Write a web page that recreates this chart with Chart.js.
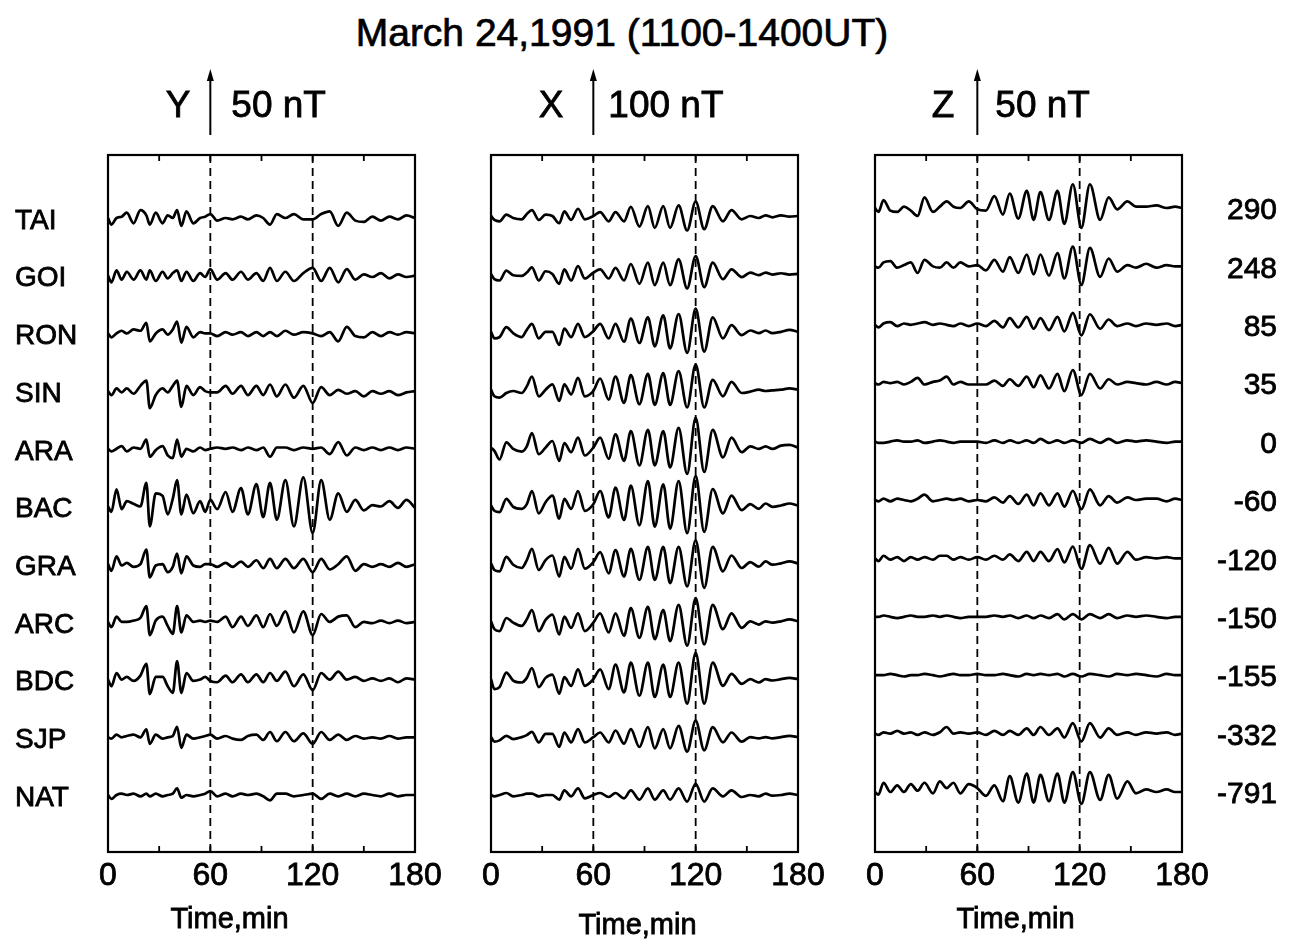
<!DOCTYPE html>
<html>
<head>
<meta charset="utf-8">
<script src="https://cdn.jsdelivr.net/npm/chart.js@4.4.1/dist/chart.umd.min.js"></script>
<style>
  html, body { margin: 0; padding: 0; background: #fff; }
  body { width: 1296px; height: 939px; position: relative; overflow: hidden; font-family: "Liberation Sans", Arial, sans-serif; }
  #title { position: absolute; left: 0; top: 13px; width: 1244px; text-align: center; font-size: 39px; line-height: 39px; color: #000; -webkit-text-stroke: 0.7px #000; }
  canvas { position: absolute; top: 0; }
</style>
</head>
<body>
<div id="title">March 24,1991 (1100-1400UT)</div>
<canvas id="cY" width="450" height="939" style="left:0px"></canvas>
<canvas id="cX" width="385" height="939" style="left:450px"></canvas>
<canvas id="cZ" width="461" height="939" style="left:835px"></canvas>
<script>
// stations top to bottom, and the numbers printed on the right
const stations = ["TAI", "GOI", "RON", "SIN", "ARA", "BAC", "GRA", "ARC", "BDC", "SJP", "NAT"];
const stationDist = ["290", "248", "85", "35", "0", "-60", "-120", "-150", "-155", "-332", "-791"];
const timeTicks = [0, 60, 120, 180];

// Y component (nT), sampled at tY minutes
const tY = [0, 2, 5, 8, 11, 15, 19, 22.5, 24.5, 28, 32, 35, 38, 40.5, 43, 46, 50, 54, 57, 60, 64, 69, 73, 78, 82, 87, 91, 95, 99, 104, 109, 114.5, 120, 125, 130, 135, 140, 145, 150, 155, 160, 165, 170, 175, 180];
const yTAI = [0,-5,0,1,4,-4,6,2,-5,4, -4,2,0,6,-6,5,-4,0,1,3, -2,0,-1,1,-1,2,0,-5,3,0, 3,-1,-1,3,5,-6,4,-2,-3,1, -2,1,-1,2,0];
const yGOI = [0,-5,4,-3,3,-3,4,-3,4,-4, 3,-2,2,4,-4,3,-4,2,-1,5, -3,2,-3,3,-3,2,-4,6,-4,3, -4,2,6,-4,6,-5,5,-3,1,-1, 2,-2,1,-1,0];
const yRON = [0,-3,0,2,0,3,2,8,-6,0, 3,-1,3,9,-7,5,-3,1,0,0, -2,1,-1,1,-2,1,-2,1,-2,2, -1,1,0,-2,1,-6,5,-2,-3,1, -2,1,-1,1,0];
const ySIN = [0,-3,2,-1,2,-2,4,8,-13,-3, 2,-1,4,8,-12,4,-3,3,0,-1, -1,4,-2,4,-3,4,-3,5,-4,5, -5,4,-9,3,-3,1,-2,0,-4,0, -2,0,-3,-1,0];
const yARA = [0,-2,0,2,-2,1,0,7,-6,-1, 2,-5,-7,7,-6,0,-2,1,-1,0, 1,0,1,-1,1,-1,1,-6,1,1, -1,1,0,1,-4,5,-5,1,-1,1, -1,1,-1,1,0];
const yBAC = [0,-4,13,-2,4,2,0,18,-15,10, 8,-6,6,20,-6,9,-5,4,-4,5, -2,11,-4,14,-6,17,-8,18,-10,20, -15,22,-20,20,-10,10,-4,5,-3,1, 0,4,-1,5,-1];
const yGRA = [0,-5,6,-1,1,-2,0,11,-10,-1, 0,-6,-2,8,-7,6,-1,-2,0,0, -2,1,-2,2,-2,3,-3,4,-3,4, -3,4,-6,4,-4,0,6,-5,0,-2, 0,-2,1,-2,0];
const yARC = [0,-4,4,0,0,1,3,12,-10,1, 4,-3,-9,12,-8,5,0,1,0,1, 0,4,-4,4,-3,5,-4,6,-3,8, -8,8,-10,6,0,4,5,-4,0,-1, 1,-1,1,-1,0];
const yBDC = [0,-5,5,0,2,-1,3,12,-11,2, 2,-5,-10,14,-10,5,-1,0,2,-1, -2,3,-2,4,-2,4,-2,5,-1,6, -5,4,-8,5,0,6,0,2,-1,1, -1,1,-2,1,0];
const ySJP = [0,-1,2,0,1,2,0,6,-5,2, -1,0,1,8,-8,2,-1,0,1,2, -1,1,-1,-2,1,2,-2,4,-3,4, -3,3,-5,4,-2,2,-2,1,-1,0, -1,1,-1,0,0];
const yNAT = [0,-3,0,1,0,1,-1,1,-1,1, -1,0,1,5,-2,0,-1,0,1,3, -1,1,-1,1,0,1,-1,-4,1,1, -1,0,1,-3,1,-1,1,-1,1,0, -1,1,-1,0,0];

// X component (nT), sampled at tX minutes
const tX = [0, 2, 5, 9, 13, 18, 21, 24, 28, 32, 36, 40, 43, 47, 51, 55, 60, 64, 69, 73, 78, 82, 87, 92, 96, 101, 105, 110, 115, 120, 125, 130, 136, 141, 147, 152, 157, 161, 165, 170, 175, 180];
const xTAI = [0,-6,-8,2,-3,-5,3,9,-6,2, 0,-11,7,-6,11,-5,0,6,-8,6, -8,14,-16,15,-18,15,-18,16,-22,22, -20,15,-8,9,-5,0,-3,1,-2,1, -1,0];
const xGOI = [0,-8,-10,5,-2,-3,2,10,-10,4, 0,-15,7,-10,12,-7,2,7,-7,9, -10,15,-15,17,-17,17,-17,22,-22,27, -20,17,-8,7,-5,2,-2,2,-1,1, -1,0];
const xRON = [0,-10,-8,7,-2,-8,3,12,-10,0, 0,-20,5,-8,12,-8,1,12,-10,12, -15,20,-17,22,-22,25,-25,27,-32,35, -30,22,-10,10,-5,2,-2,2,-2,0, 3,0];
const xSIN = [0,-10,-12,-5,-2,-5,5,20,-10,0, 8,-17,8,-7,18,-10,-2,17,-15,20, -20,22,-22,24,-23,25,-23,28,-27,38, -27,15,-10,12,-5,-3,0,-2,-1,0, 2,0];
const xARA = [0,-5,-18,8,-2,-6,2,22,-10,0, 10,-20,7,-7,15,-12,0,15,-17,20, -20,25,-27,27,-27,25,-30,30,-40,45, -37,27,-15,15,-7,2,-2,2,-2,3, 4,0];
const xBAC = [0,-8,-10,10,-2,-5,2,22,-12,5, 15,-20,10,-5,22,-8,2,22,-18,27, -22,30,-30,37,-32,32,-35,37,-42,45, -40,25,-12,15,-7,2,-5,3,-2,0, 3,0];
const xGRA = [0,-10,-12,10,-2,-7,5,22,-10,5, 12,-20,10,-8,22,-8,2,17,-15,20, -20,22,-25,25,-25,25,-30,25,-35,35, -37,25,-12,12,-7,2,-5,3,-2,0, 3,0];
const xARC = [0,-12,-15,5,-2,-7,3,17,-15,2, 10,-20,7,-10,12,-15,-2,12,-17,12, -22,20,-25,22,-27,17,-30,25,-37,35, -35,25,-12,12,-10,0,-5,0,-2,0, 3,0];
const xBDC = [0,-15,-12,10,-2,-5,2,17,-12,2, 7,-22,3,-10,15,-10,0,15,-15,22, -20,25,-25,25,-27,22,-27,25,-37,40, -37,25,-10,8,-7,0,-5,0,-2,0, 2,0];
const xSJP = [0,-7,-5,2,-3,0,3,8,-8,5, 5,-15,7,-8,12,-8,0,7,-8,10, -10,12,-15,15,-17,12,-17,17,-22,25, -20,15,-8,7,-7,0,-2,0,-2,0, 2,0];
const xNAT = [0,-2,0,3,-2,0,2,2,-2,0, 0,-7,7,-2,10,-5,0,3,-3,3, -5,7,-7,10,-7,7,-7,10,-10,17, -10,10,-2,7,-3,0,-2,2,-1,0, 2,0];

// Z component (nT), sampled at tZ minutes
const tZ = [0, 2, 5, 9, 13, 17, 21, 25, 29, 34, 38, 42, 46, 50, 55, 60, 65, 70, 75, 79, 84, 89, 93, 97, 102, 107, 111, 116, 121, 126, 132, 137, 142, 148, 153, 159, 165, 171, 176, 180];
const zTAI = [0,-3,6,-2,-3,1,-2,-6,8,-3, 1,5,1,0,5,-1,-2,9,-5,11, -8,13,-9,12,-9,13,-12,18,-15,18, -9,8,-1,5,1,1,2,0,1,0];
const zGOI = [0,-1,3,4,-1,1,3,-5,5,0, -1,3,-1,3,0,1,-3,5,-4,7, -5,9,-6,9,-7,10,-9,15,-14,14, -8,6,-4,1,-1,2,-1,1,0,0];
const zRON = [0,-2,1,2,-1,1,0,1,2,0, 1,0,-1,1,-1,1,-1,3,-2,5, -2,6,-3,5,-4,6,-5,9,-8,8, -3,4,-1,1,-1,1,0,1,-1,0];
const zSIN = [0,-1,1,0,1,-1,1,4,-1,1, 2,5,-1,1,-1,-1,-1,2,-2,3, -2,5,-3,6,-4,7,-6,10,-9,7, -4,3,-1,1,0,-1,1,-1,1,0];
const zARA = [0,-1,-1,0,1,0,0,1,-1,0, 1,0,-1,0,0,0,-1,1,-1,1, -1,1,-1,2,-1,1,-1,1,-1,2, -1,2,-1,1,0,1,0,-1,0,0];
const zBAC = [0,-1,1,-1,1,0,-1,1,4,-1, 0,1,0,1,-1,0,-1,2,-2,3, -3,4,-4,5,-4,5,-5,7,-7,8, -4,3,-2,2,0,1,1,-1,1,0];
const zGRA = [0,-2,2,-1,1,-2,1,-1,1,-1, 2,2,-1,1,-1,1,-1,2,-1,3, -2,5,-2,5,-2,7,-3,9,-8,10, -4,8,-4,5,-1,1,0,1,0,0];
const zARC = [0,0,1,0,-1,0,1,0,0,1, 0,1,0,-1,0,0,0,1,0,1, -1,1,-1,1,-1,2,-2,2,-2,2, -1,2,-1,1,0,1,0,-1,0,0];
const zBDC = [0,0,0,1,0,-1,0,0,1,0, -1,0,1,0,0,1,0,0,1,0, -1,1,0,1,0,1,-1,1,-1,1, 0,-1,1,0,1,0,-1,1,0,0];
const zSJP = [0,-1,1,0,2,0,1,-1,1,-1, 1,5,0,1,0,1,-1,2,-1,2, -1,4,-1,5,-1,4,-3,8,-6,8, -3,4,-1,1,-1,1,0,1,-1,0];
const zNAT = [0,-2,7,0,5,0,6,1,7,-1, 8,3,7,-1,6,3,-3,5,-7,12, -8,14,-8,13,-7,14,-8,15,-9,15, -6,13,-5,8,-1,2,0,2,0,0];

const FONT = '"Liberation Sans", Arial, Helvetica, sans-serif';
const PLOT_TOP = 155, PLOT_BOTTOM = 852;

// heavier text, like the scanned original
function inkText(ctx, s, x, y) {
  ctx.fillText(s, x, y);
  ctx.strokeText(s, x, y);
}

// frame, dashed marks, scale arrow and the text round each panel
const deco = {
  id: "deco",
  afterDraw(chart, args, o) {
    const { ctx, chartArea: a } = chart;
    const x = chart.scales.x, y = chart.scales.y;
    ctx.save();
    ctx.strokeStyle = "#000";
    ctx.fillStyle = "#000";

    ctx.lineWidth = 2.2;
    ctx.strokeRect(a.left, a.top, a.right - a.left, a.bottom - a.top);

    ctx.lineWidth = 1.8;
    ctx.setLineDash([8, 5]);
    [60, 120].forEach(v => {
      const px = x.getPixelForValue(v);
      ctx.beginPath(); ctx.moveTo(px, a.top); ctx.lineTo(px, a.bottom); ctx.stroke();
    });
    ctx.setLineDash([]);
    for (let v = 30; v < 180; v += 30) {
      const px = x.getPixelForValue(v);
      ctx.beginPath();
      ctx.moveTo(px, a.top); ctx.lineTo(px, a.top + 6);
      ctx.moveTo(px, a.bottom); ctx.lineTo(px, a.bottom - 6);
      ctx.stroke();
    }

    // scale bar arrow at t = 60
    const ax = x.getPixelForValue(60);
    const len = Math.abs(y.getPixelForValue(0) - y.getPixelForValue(o.bar));
    const yb = 135, yt = yb - len;
    ctx.lineWidth = 2;
    ctx.beginPath(); ctx.moveTo(ax, yb); ctx.lineTo(ax, yt + 8); ctx.stroke();
    ctx.beginPath(); ctx.moveTo(ax, yt); ctx.lineTo(ax - 3.5, yt + 12); ctx.lineTo(ax + 3.5, yt + 12); ctx.closePath(); ctx.fill();

    ctx.lineWidth = 0.8;
    ctx.font = "37px " + FONT;
    ctx.textBaseline = "alphabetic";
    ctx.textAlign = "right";
    inkText(ctx, o.comp, ax - o.gapL, 117);
    ctx.textAlign = "left";
    inkText(ctx, o.bar + " nT", ax + o.gapR, 117);

    // row labels
    if (o.labels) {
      ctx.font = o.labelFont + "px " + FONT;
      ctx.textAlign = o.labelAlign;
      ctx.textBaseline = "middle";
      o.labels.forEach((s, i) => {
        inkText(ctx, s, o.labelX, y.getPixelForValue(-i * o.gapNT) + 3);
      });
    }

    ctx.font = "29px " + FONT;
    ctx.textAlign = "center";
    ctx.textBaseline = "middle";
    inkText(ctx, "Time,min", (a.left + a.right) / 2 + o.titleDx, o.titleY);
    ctx.restore();
  }
};

const panels = [
  { id: "cY", comp: "Y", bar: 50, t: tY, rows: [yTAI, yGOI, yRON, ySIN, yARA, yBAC, yGRA, yARC, yBDC, ySJP, yNAT],
    padL: 108, padR: 35, firstRow: 218, rowGap: 57.7, ppn: 1.32, gapL: 20, gapR: 21,
    labels: stations, labelX: 15, labelAlign: "left", labelFont: 28, titleDx: -32, titleY: 920 },
  { id: "cX", comp: "X", bar: 100, t: tX, rows: [xTAI, xGOI, xRON, xSIN, xARA, xBAC, xGRA, xARC, xBDC, xSJP, xNAT],
    padL: 41, padR: 37, firstRow: 216, rowGap: 57.9, ppn: 0.66, gapL: 30, gapR: 15,
    labels: null, titleDx: -7, titleY: 926 },
  { id: "cZ", comp: "Z", bar: 50, t: tZ, rows: [zTAI, zGOI, zRON, zSIN, zARA, zBAC, zGRA, zARC, zBDC, zSJP, zNAT],
    padL: 40, padR: 114, firstRow: 208, rowGap: 58.4, ppn: 1.32, gapL: 23, gapR: 18,
    labels: stationDist, labelX: 442, labelAlign: "right", labelFont: 30, titleDx: -13, titleY: 920 }
];

panels.forEach(p => {
  const gapNT = p.rowGap / p.ppn;
  const yMax = (p.firstRow - PLOT_TOP) / p.ppn;
  const yMin = yMax - (PLOT_BOTTOM - PLOT_TOP) / p.ppn;
  const datasets = p.rows.map((vals, i) => ({
    label: stations[i],
    data: p.t.map((t, j) => ({ x: t, y: vals[j] - i * gapNT })),
    borderColor: "#000",
    borderWidth: 2.7,
    pointRadius: 0,
    fill: false,
    cubicInterpolationMode: "monotone"
  }));
  const canvas = document.getElementById(p.id);
  new Chart(canvas, {
    type: "line",
    data: { datasets },
    options: {
      responsive: false,
      animation: false,
      devicePixelRatio: 1,
      layout: { padding: { left: p.padL, right: p.padR, top: PLOT_TOP, bottom: 0 } },
      plugins: {
        legend: { display: false },
        tooltip: { enabled: false },
        deco: { comp: p.comp, bar: p.bar, gapL: p.gapL, gapR: p.gapR, gapNT,
                labels: p.labels, labelX: p.labelX, labelAlign: p.labelAlign, labelFont: p.labelFont,
                titleDx: p.titleDx, titleY: p.titleY }
      },
      scales: {
        x: {
          type: "linear", min: 0, max: 180,
          afterBuildTicks: s => { s.ticks = timeTicks.map(v => ({ value: v })); },
          afterFit: s => { s.height = 939 - PLOT_BOTTOM; },
          grid: { display: false, drawTicks: false },
          border: { display: false },
          ticks: { color: "#000", font: { family: FONT, size: 32 }, padding: 5, maxRotation: 0, autoSkip: false,
                   textStrokeColor: "#000", textStrokeWidth: 0.8 }
        },
        y: { type: "linear", min: yMin, max: yMax, display: false }
      }
    },
    plugins: [deco]
  });
});
</script>
</body>
</html>
